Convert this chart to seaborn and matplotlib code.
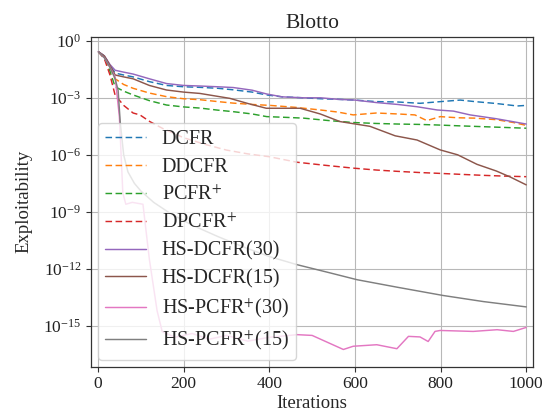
import numpy as np
import pandas as pd
import matplotlib
matplotlib.use("Agg")
import matplotlib.pyplot as plt
import seaborn as sns

# ---------------- data (log10 exploitability) ----------------
title = "Blotto"
x_label = "Iterations"
y_label = "Exploitability"

dcfr_it = [1, 15, 28, 40, 60, 82, 120, 160, 200, 238, 280, 316, 360, 394, 430, 480, 520, 560, 600,
           650, 700, 752, 800, 846, 880, 930, 979, 1000]
dcfr_log = [-0.58, -0.8, -1.3, -1.7, -1.8, -1.9, -2.15, -2.35, -2.42, -2.45, -2.5, -2.58, -2.7, -2.85,
            -2.95, -3.0, -3.05, -3.08, -3.12, -3.2, -3.22, -3.29, -3.2, -3.12, -3.2, -3.3, -3.43, -3.4]

ddcfr_it = [1, 15, 28, 40, 60, 82, 120, 160, 200, 238, 280, 316, 360, 402, 460, 519, 560, 596, 650,
            700, 740, 768, 799, 840, 880, 930, 970, 1000]
ddcfr_log = [-0.58, -0.85, -1.4, -2.0, -2.3, -2.5, -2.75, -2.94, -3.05, -3.1, -3.2, -3.28, -3.35, -3.4,
             -3.5, -3.64, -3.75, -3.9, -3.8, -3.85, -3.9, -4.2, -3.99, -4.05, -4.07, -4.15, -4.3, -4.45]

pcfr_it = [1, 15, 28, 40, 60, 82, 120, 160, 200, 238, 280, 316, 360, 394, 440, 480, 540, 596, 650,
           700, 750, 792, 850, 900, 950, 1000]
pcfr_log = [-0.58, -0.9, -1.6, -2.42, -2.65, -2.85, -3.15, -3.38, -3.48, -3.54, -3.65, -3.73, -3.85,
            -3.99, -4.03, -4.07, -4.2, -4.3, -4.35, -4.38, -4.4, -4.43, -4.48, -4.52, -4.56, -4.6]

dpcfr_it = [1, 15, 28, 40, 60, 82, 98, 121, 150, 200, 250, 300, 350, 400, 465, 530, 596, 650, 700,
            750, 792, 850, 900, 950, 1000]
dpcfr_log = [-0.58, -0.95, -1.8, -2.86, -3.4, -3.8, -3.9, -4.25, -4.6, -5.1, -5.45, -5.75, -5.95,
             -6.1, -6.39, -6.55, -6.7, -6.8, -6.87, -6.93, -6.97, -7.03, -7.08, -7.12, -7.15]

hsd30_it = [1, 15, 28, 40, 60, 82, 120, 160, 200, 238, 280, 316, 360, 394, 430, 480, 520, 560, 600,
            650, 700, 745, 792, 830, 869, 930, 1000]
hsd30_log = [-0.58, -0.8, -1.25, -1.55, -1.65, -1.75, -2.0, -2.25, -2.35, -2.38, -2.42, -2.46, -2.6,
             -2.8, -2.95, -3.0, -3.0, -3.08, -3.12, -3.25, -3.35, -3.47, -3.64, -3.7, -3.9, -4.1, -4.38]

hsd15_it = [1, 15, 28, 40, 60, 82, 120, 160, 200, 238, 308, 350, 393, 472, 519, 565, 635, 694, 745,
            799, 840, 885, 930, 963, 1000]
hsd15_log = [-0.58, -0.8, -1.3, -1.8, -1.9, -2.0, -2.35, -2.59, -2.7, -2.77, -3.03, -3.3, -3.55,
             -3.55, -3.85, -4.25, -4.5, -5.0, -5.22, -5.74, -6.0, -6.5, -6.85, -7.17, -7.58]

hsp30_it = [1, 15, 28, 40, 50, 58, 65, 80, 105, 120, 138, 150, 180, 220, 260, 300, 350, 400, 465,
            500, 573, 596, 651, 698, 725, 752, 771, 787, 799, 876, 932, 970, 1000]
hsp30_log = [-0.58, -0.9, -1.4, -1.9, -4.0, -8.0, -8.6, -8.5, -8.6, -11.5, -14.2, -15.3, -15.6,
             -15.4, -15.7, -15.5, -15.8, -15.6, -15.46, -15.5, -16.24, -16.07, -15.99, -16.2,
             -15.55, -15.58, -15.82, -15.29, -15.24, -15.29, -15.2, -15.29, -15.08]

hsp15_it = [1, 15, 28, 40, 47, 52, 60, 70, 85, 100, 130, 170, 220, 280, 340, 400, 465, 540, 605,
            700, 806, 900, 1000]
hsp15_log = [-0.58, -0.9, -1.4, -2.0, -2.6, -4.3, -6.0, -6.9, -7.5, -7.9, -8.5, -9.1, -9.7, -10.3,
             -10.85, -11.35, -11.78, -12.2, -12.57, -12.97, -13.4, -13.72, -14.0]

series_names = ["DCFR", "DDCFR", "PCFR$^{+}$", "DPCFR$^{+}$",
                "HS-DCFR(30)", "HS-DCFR(15)", "HS-PCFR$^{+}$(30)", "HS-PCFR$^{+}$(15)"]
series_its = [dcfr_it, ddcfr_it, pcfr_it, dpcfr_it, hsd30_it, hsd15_it, hsp30_it, hsp15_it]
series_logs = [dcfr_log, ddcfr_log, pcfr_log, dpcfr_log, hsd30_log, hsd15_log, hsp30_log, hsp15_log]

x_ticks = [0, 200, 400, 600, 800, 1000]
y_tick_exps = [0, -3, -6, -9, -12, -15]

# ---------------- style ----------------
sns.set_style("ticks")
plt.rcParams["font.family"] = ["Liberation Serif", "DejaVu Serif"]
plt.rcParams["mathtext.fontset"] = "stix"

colors = sns.color_palette("tab10", 8)
dashed = [True, True, True, True, False, False, False, False]

fig = plt.figure(figsize=(5.49, 4.18), dpi=100)
ax = fig.add_axes([0.166, 0.123, 0.805, 0.789])

for name, its, logs, c, d in zip(series_names, series_its, series_logs, colors, dashed):
    df = pd.DataFrame({"it": its, "val": np.power(10.0, logs)})
    sns.lineplot(data=df, x="it", y="val", ax=ax, color=c, lw=1.05,
                 label=name, estimator=None, sort=False)
    if d:
        ax.lines[-1].set_dashes([4.5, 2.4])

ax.set_yscale("log")
ax.set_xlim(-16, 1016)
ax.set_ylim(10 ** -17.14, 10 ** 0.21)
ax.set_xticks(x_ticks)
ax.set_yticks([10.0 ** e for e in y_tick_exps])
ax.yaxis.set_minor_locator(matplotlib.ticker.NullLocator())
ax.tick_params(labelsize=12.5, length=3.5, width=0.8, colors="#333333", labelcolor="#222222")
ax.grid(True, color="#b8b8b8", lw=0.8)
for s in ax.spines.values():
    s.set_color("#333333")
    s.set_linewidth(0.9)

ax.set_title(title, fontsize=15.5, pad=6)
ax.set_xlabel(x_label, fontsize=13.5, labelpad=2)
ax.set_ylabel(y_label, fontsize=13.5, labelpad=8)

leg = ax.legend(loc="lower left", fontsize=14.5, framealpha=0.8, borderaxespad=0.35,
                handlelength=2.0, labelspacing=0.42, borderpad=0.35, edgecolor="0.8",
                fancybox=True)
for h in leg.get_lines():
    h.set_linewidth(1.05)

fig.savefig("out.png", dpi=100)
